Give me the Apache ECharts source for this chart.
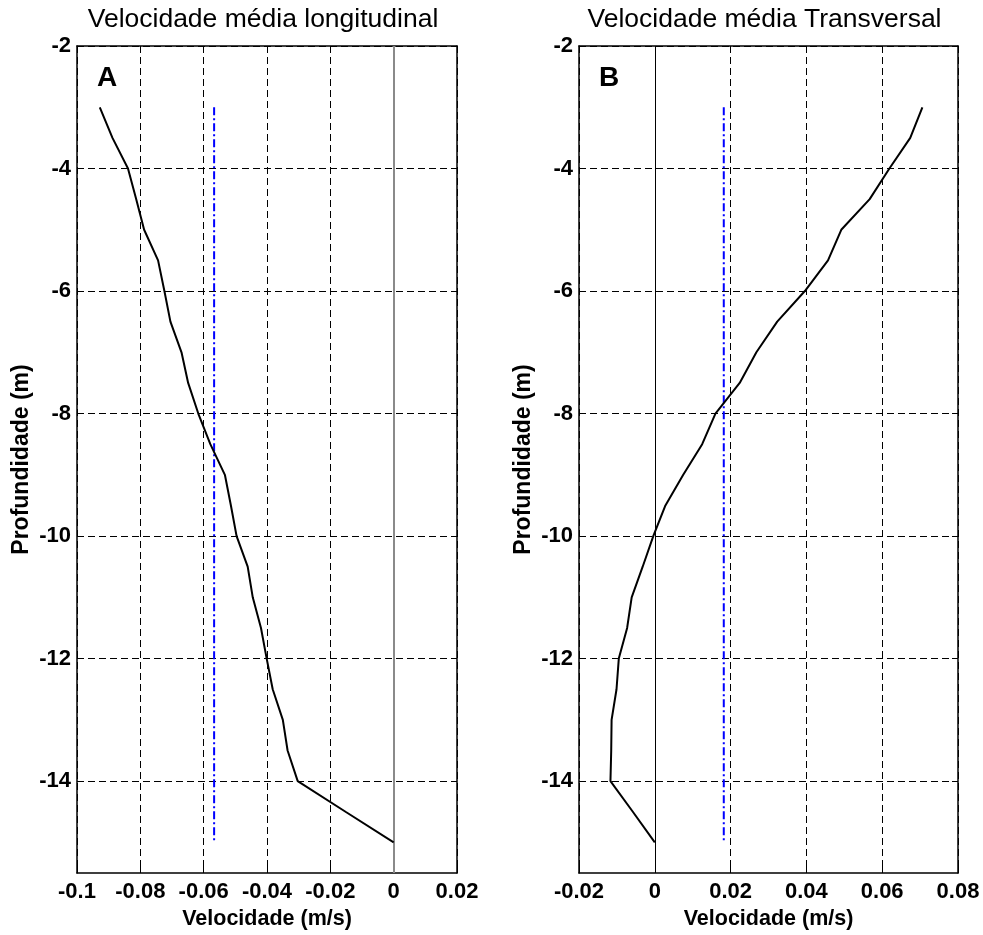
<!DOCTYPE html>
<html><head><meta charset="utf-8">
<script src="https://cdn.jsdelivr.net/npm/echarts@6/dist/echarts.min.js"></script>
<style>html,body{margin:0;padding:0;background:#fff}#c{width:983px;height:935px}</style>
</head><body><div id="c"></div>
<script>
// ---- data ----
const depth = [-3, -3.5, -4, -4.5, -5, -5.5, -6, -6.5, -7, -7.5, -8, -8.5, -9, -9.5, -10, -10.5, -11, -11.5, -12, -12.5, -13, -13.5, -14, -14.5, -15];
const velLong = [-0.0928, -0.0888, -0.0839, -0.0813, -0.0788, -0.0744, -0.0724, -0.0705, -0.0670, -0.0649, -0.0617, -0.0579, -0.0533, -0.0514, -0.0496, -0.0461, -0.0445, -0.0419, -0.0401, -0.0382, -0.0350, -0.0335, -0.0303, -0.0152, 0];
const velTrans = [0.0706, 0.0674, 0.0619, 0.0567, 0.0492, 0.0457, 0.0396, 0.0323, 0.0268, 0.0224, 0.0160, 0.0125, 0.0075, 0.0028, -0.0004, -0.0032, -0.0061, -0.0073, -0.0095, -0.0101, -0.0114, -0.0115, -0.0117, -0.0058, 0];
const meanLong = -0.0567;
const meanTrans = 0.0182;
const meanDepthRange = [-3, -15];
const yTicks = [-14, -12, -10, -8, -6, -4, -2];
const yRange = [-15.5, -2];
const xRanges = [[-0.1, 0.02], [-0.02, 0.08]];
const xInterval = 0.02;
const titles = ['Velocidade média longitudinal', 'Velocidade média Transversal'];
const panelLabels = ['A', 'B'];
const xName = 'Velocidade (m/s)';
const yName = 'Profundidade (m)';

// ---- layout ----
const FONT = '"Liberation Sans", Arial, sans-serif';
const grids = [
  {left: 77, top: 46, width: 380, height: 833},
  {left: 579, top: 46, width: 379, height: 833}
];
const dash = [7, 4];

const xAxes = [], yAxes = [], series = [];
grids.forEach((g, i) => {
  xAxes.push({
    type: 'value', gridIndex: i, position: 'bottom',
    min: xRanges[i][0], max: xRanges[i][1], interval: xInterval,
    name: xName, nameLocation: 'middle', nameGap: 35,
    nameTextStyle: {fontFamily: FONT, fontSize: 21.5, fontWeight: 'bold', color: '#000'},
    axisLine: {show: true, onZero: false, lineStyle: {color: '#000', width: 1.5}},
    axisTick: {show: true, inside: true, length: 6, lineStyle: {color: '#000'}},
    axisLabel: {fontFamily: FONT, fontSize: 22, fontWeight: 'bold', color: '#000', margin: 8,
      formatter: v => String(parseFloat(v.toFixed(3)))},
    splitLine: {show: true, lineStyle: {color: '#000', type: dash, width: 1}}
  });
  xAxes.push({
    type: 'value', gridIndex: i, position: 'top',
    min: xRanges[i][0], max: xRanges[i][1], interval: xInterval,
    axisLine: {show: true, onZero: false, lineStyle: {color: '#000', width: 1.5}},
    axisTick: {show: true, inside: true, length: 6, lineStyle: {color: '#000'}},
    axisLabel: {show: false}, splitLine: {show: false}
  });
  yAxes.push({
    type: 'value', gridIndex: i, position: 'left',
    min: yRange[0], max: yRange[1],
    name: yName, nameLocation: 'middle', nameGap: 44, nameRotate: 90,
    nameTextStyle: {fontFamily: FONT, fontSize: 23, fontWeight: 'bold', color: '#000'},
    axisLine: {show: true, onZero: false, lineStyle: {color: '#000', width: 1.5}},
    axisTick: {show: true, inside: true, length: 6, customValues: yTicks, lineStyle: {color: '#000'}},
    axisLabel: {fontFamily: FONT, fontSize: 22, fontWeight: 'bold', color: '#000', margin: 6, customValues: yTicks},
    splitLine: {show: true, lineStyle: {color: '#000', type: dash, width: 1}}
  });
  yAxes.push({
    type: 'value', gridIndex: i, position: 'right',
    min: yRange[0], max: yRange[1],
    axisLine: {show: true, onZero: false, lineStyle: {color: '#000', width: 1.5}},
    axisTick: {show: true, inside: true, length: 6, customValues: yTicks, lineStyle: {color: '#000'}},
    axisLabel: {show: false}, splitLine: {show: false}
  });
});

const profiles = [velLong, velTrans];
const means = [meanLong, meanTrans];
const zeroStyles = [
  {color: '#8a8a8a', width: 2, type: 'solid'},
  {color: '#000', width: 1, type: 'solid'}
];
profiles.forEach((vals, i) => {
  series.push({
    type: 'line', xAxisIndex: 2 * i, yAxisIndex: 2 * i,
    data: depth.map((d, k) => [vals[k], d]),
    symbol: 'none', silent: true, z: 5,
    lineStyle: {color: '#000', width: 2},
    markLine: {silent: true, symbol: 'none', label: {show: false}, z: 1,
      lineStyle: zeroStyles[i], data: [{xAxis: 0}]}
  });
  series.push({
    type: 'line', xAxisIndex: 2 * i, yAxisIndex: 2 * i,
    data: meanDepthRange.map(d => [means[i], d]),
    symbol: 'none', silent: true, z: 4,
    lineStyle: {color: '#0000ff', width: 2, type: [8, 3, 2, 3]}
  });
});

const graphics = [];
grids.forEach((g, i) => {
  graphics.push({type: 'text', x: g.left + g.width / 2 - 4, y: 20,
    style: {text: titles[i], fontFamily: FONT, fontSize: 26.5, fill: '#000', textAlign: 'center', textVerticalAlign: 'middle'}});
  graphics.push({type: 'text', x: g.left + 30, y: 78,
    style: {text: panelLabels[i], fontFamily: FONT, fontSize: 28, fontWeight: 'bold', fill: '#000', textAlign: 'center', textVerticalAlign: 'middle'}});
});

const chart = echarts.init(document.getElementById('c'), null, {renderer: 'canvas'});
chart.setOption({
  animation: false,
  backgroundColor: '#fff',
  grid: grids.map(g => Object.assign({containLabel: false}, g)),
  xAxis: xAxes, yAxis: yAxes, series: series, graphic: graphics
});
</script></body></html>
